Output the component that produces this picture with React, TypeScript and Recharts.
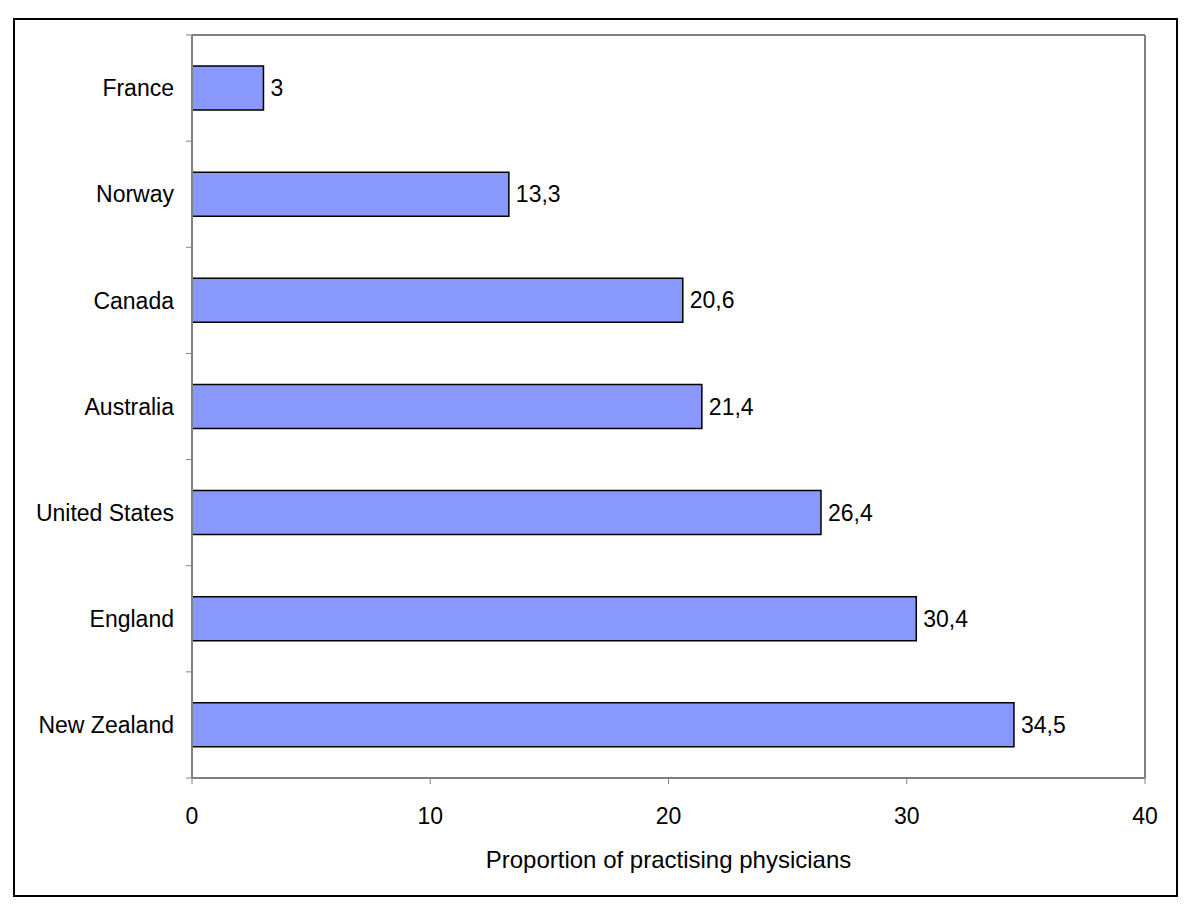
import { BarChart, Bar, XAxis, YAxis, ReferenceLine, LabelList } from 'recharts';

// values
const countries = ['France', 'Norway', 'Canada', 'Australia', 'United States', 'England', 'New Zealand'];
const shares = [3, 13.3, 20.6, 21.4, 26.4, 30.4, 34.5];
const xTicks = [0, 10, 20, 30, 40];

const data = countries.map((country, i) => ({ country, share: shares[i] }));

const FONT = '"Liberation Sans", Arial, sans-serif';
const GREY = '#808080';
const TICK_GAP = 18; // distance from label end to the axis line

// category label plus an Excel-like tick mark on the band edge (not the band centre)
function CountryTick(props: any) {
    const { x, y, payload, index, visibleTicksCount } = props;
    const half = payload && payload.offset ? payload.offset : 53;
    const axisX = x + TICK_GAP;
    const last = index === visibleTicksCount - 1;
    return (
        <g>
            <line x1={axisX - 6} x2={axisX} y1={y - half} y2={y - half} stroke={GREY} />
            {last && <line x1={axisX - 6} x2={axisX} y1={y + half} y2={y + half} stroke={GREY} />}
            <text x={x} y={y} dy="0.355em" textAnchor="end" fill="#000" fontSize={23} fontFamily={FONT}>
                {payload.value}
            </text>
        </g>
    );
}

export default function App() {
    return (
        <div style={{ position: 'absolute', left: 0, top: 0, width: 1200, height: 912, background: '#fff' }}>
            <div
                style={{
                    position: 'absolute',
                    left: 13,
                    top: 18,
                    width: 1165,
                    height: 879,
                    border: '2px solid #000',
                    boxSizing: 'border-box',
                }}
            />
            <div style={{ position: 'absolute', left: 0, top: 0 }}>
                <BarChart
                    width={1200}
                    height={912}
                    data={data}
                    layout="vertical"
                    margin={{ top: 35, right: 55, bottom: 34, left: 0 }}
                    style={{ fontFamily: FONT }}
                >
                    <XAxis
                        type="number"
                        domain={[0, 40]}
                        ticks={xTicks}
                        height={100}
                        stroke={GREY}
                        axisLine={{ stroke: GREY, strokeWidth: 2 }}
                        tickSize={6}
                        tickMargin={24}
                        tick={{ fill: '#000', fontSize: 23 }}
                        label={{
                            value: 'Proportion of practising physicians',
                            position: 'insideBottom',
                            offset: 10,
                            fill: '#000',
                            fontSize: 24,
                        }}
                    />
                    <YAxis
                        type="category"
                        dataKey="country"
                        width={192}
                        stroke={GREY}
                        axisLine={{ stroke: GREY, strokeWidth: 2 }}
                        tickLine={false}
                        tickSize={0}
                        tickMargin={TICK_GAP}
                        tick={<CountryTick />}
                    />
                    {/* top and right edges of the plot frame */}
                    <ReferenceLine y="France" position="start" stroke={GREY} strokeWidth={2} />
                    <ReferenceLine x={40} stroke={GREY} strokeWidth={2} />
                    <Bar
                        dataKey="share"
                        fill="#8898fc"
                        stroke="#000"
                        strokeWidth={1.5}
                        barSize={44}
                        isAnimationActive={false}
                    >
                        <LabelList
                            dataKey="share"
                            position="right"
                            offset={7}
                            fill="#000"
                            fontSize={23}
                            formatter={(v: number) => String(v).replace('.', ',')}
                        />
                    </Bar>
                </BarChart>
            </div>
        </div>
    );
}
